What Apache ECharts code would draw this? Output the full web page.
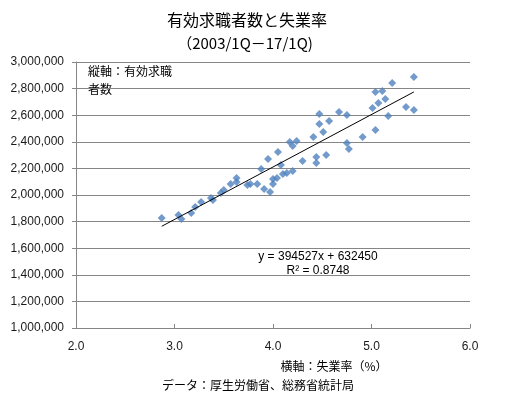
<!DOCTYPE html>
<html>
<head>
<meta charset="utf-8">
<script src="https://cdn.jsdelivr.net/npm/echarts@6/dist/echarts.min.js"></script>
<style>html,body{margin:0;padding:0;background:#fff}#c{width:513px;height:396px}</style>
</head>
<body>
<div id="c"></div>
<script>
// Unemployment rate (%) per quarter, 2003/1Q - 2017/1Q
const unemploymentRate = [
  2.87, 3.04, 3.07, 3.17, 3.21, 3.27, 3.37, 3.39, 3.47, 3.50,
  3.57, 3.63, 3.63, 3.74, 3.77, 3.84, 3.91, 3.97, 4.00, 4.00,
  4.04, 4.10, 4.14, 4.20, 3.88, 3.95, 4.05, 4.08, 4.17, 4.20,
  4.24, 4.30, 4.44, 4.44, 4.54, 4.41, 4.51, 4.47, 4.47, 4.57,
  4.67, 4.75, 4.75, 4.77, 4.91, 5.01, 5.04, 5.07, 5.14, 5.04,
  5.11, 5.21, 5.17, 5.35, 5.43, 5.43
];
// Active job seekers (persons)
const jobSeekers = [
  1827000, 1850000, 1820000, 1865000, 1910000, 1947000, 1977000, 1962000, 2015000, 2038000,
  2083000, 2128000, 2098000, 2075000, 2083000, 2083000, 2045000, 2023000, 2083000, 2120000,
  2128000, 2158000, 2165000, 2180000, 2195000, 2271000, 2323000, 2226000, 2398000, 2368000,
  2406000, 2256000, 2286000, 2241000, 2301000, 2436000, 2474000, 2534000, 2609000, 2556000,
  2624000, 2602000, 2391000, 2346000, 2436000, 2654000, 2489000, 2692000, 2722000, 2774000,
  2782000, 2842000, 2594000, 2662000, 2639000, 2887000
];
// Linear trend line coefficients as printed on the chart
const trendSlope = 394527;
const trendIntercept = 632450;
const trendR2 = 0.8748;
const xTicks = [2.0, 3.0, 4.0, 5.0, 6.0];
const yTicks = [1000000, 1200000, 1400000, 1600000, 1800000, 2000000, 2200000, 2400000, 2600000, 2800000, 3000000];

const points = unemploymentRate.map((x, i) => [x, jobSeekers[i]]);
const xMinData = Math.min(...unemploymentRate);
const xMaxData = Math.max(...unemploymentRate);
const trend = [xMinData, xMaxData].map(x => [x, trendSlope * x + trendIntercept]);

const JP = '"Noto Sans CJK JP", "Liberation Sans", sans-serif';
const NUM = '"Liberation Sans", Arial, sans-serif';

const chart = echarts.init(document.getElementById('c'), null, {renderer: 'canvas'});
chart.setOption({
  animation: false,
  backgroundColor: '#fff',
  grid: {left: 76, right: 43, top: 62, bottom: 68, containLabel: false},
  xAxis: {
    type: 'value',
    min: xTicks[0], max: xTicks[xTicks.length - 1], interval: 1,
    axisLine: {show: true, lineStyle: {color: '#868686', width: 1}},
    axisTick: {show: true, inside: true, length: 4, lineStyle: {color: '#868686'}},
    splitLine: {show: false},
    axisLabel: {
      color: '#1a1a1a', fontFamily: NUM, fontSize: 12, margin: 13,
      formatter: v => v.toFixed(1)
    }
  },
  yAxis: {
    type: 'value',
    min: yTicks[0], max: yTicks[yTicks.length - 1], interval: 200000,
    axisLine: {show: true, lineStyle: {color: '#868686', width: 1}},
    axisTick: {show: true, inside: false, length: 4, lineStyle: {color: '#868686'}},
    splitLine: {show: true, lineStyle: {color: '#868686', width: 1}},
    axisLabel: {
      color: '#1a1a1a', fontFamily: NUM, fontSize: 12, margin: 12,
      formatter: v => v.toLocaleString('en-US')
    }
  },
  series: [
    {
      type: 'scatter',
      data: points,
      symbol: 'diamond',
      symbolSize: 8,
      itemStyle: {color: '#4F81BD'},
      z: 3
    },
    {
      type: 'line',
      data: trend,
      showSymbol: false,
      symbol: 'none',
      lineStyle: {color: '#000', width: 1},
      z: 4
    }
  ],
  graphic: [
    {type: 'text', x: 247, y: 20, style: {text: '有効求職者数と失業率', font: '16px ' + JP, fill: '#000', align: 'center', verticalAlign: 'middle'}},
    {type: 'text', x: 245, y: 43, style: {text: '（2003/1Q－17/1Q)', font: '15px ' + JP, fill: '#000', align: 'center', verticalAlign: 'middle'}},
    {type: 'text', x: 88, y: 71, style: {text: '縦軸：有効求職', font: '12px ' + JP, fill: '#000', align: 'left', verticalAlign: 'middle'}},
    {type: 'text', x: 88, y: 89, style: {text: '者数', font: '12px ' + JP, fill: '#000', align: 'left', verticalAlign: 'middle'}},
    {type: 'text', x: 318, y: 257, style: {text: 'y = ' + trendSlope + 'x + ' + trendIntercept, font: '12px ' + NUM, fill: '#000', align: 'center', verticalAlign: 'middle'}},
    {type: 'text', x: 318, y: 271, style: {text: 'R² = ' + trendR2, font: '12px ' + NUM, fill: '#000', align: 'center', verticalAlign: 'middle'}},
    {type: 'text', x: 334, y: 366, style: {text: '横軸：失業率（%）', font: '12px ' + JP, fill: '#000', align: 'center', verticalAlign: 'middle'}},
    {type: 'text', x: 258, y: 385, style: {text: 'データ：厚生労働省、総務省統計局', font: '12px ' + JP, fill: '#000', align: 'center', verticalAlign: 'middle'}}
  ]
});
</script>
</body>
</html>
